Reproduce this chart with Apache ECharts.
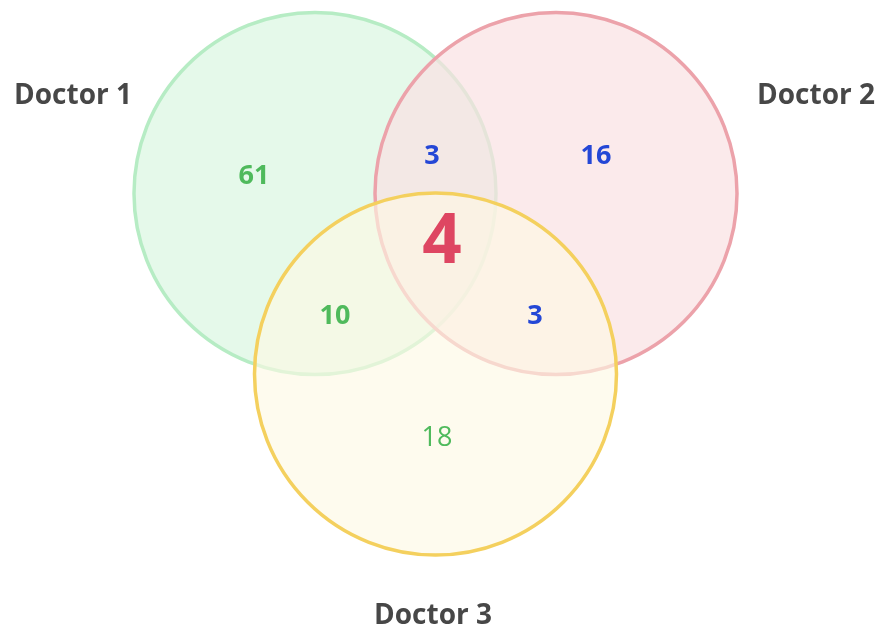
<!DOCTYPE html>
<html>
<head>
<meta charset="utf-8">
<script src="https://cdn.jsdelivr.net/npm/echarts@6/dist/echarts.min.js"></script>
<style>
html,body{margin:0;padding:0;background:#fff;}
#chart{width:881px;height:629px;}
</style>
</head>
<body>
<div id="chart"></div>
<script>
// ---- data ----
const setNames = ['Doctor 1', 'Doctor 2', 'Doctor 3'];
const regionKeys = ['1', '1&2', '2', '1&3', '1&2&3', '2&3', '3'];
const regionCounts = [61, 3, 16, 10, 4, 3, 18];

// ---- layout (diagram units = px) ----
const circleCenters = [[315, 193.5], [556, 193.5], [435.5, 374]];
const circleRadius = 181;
const setLabelPos = [[73, 96], [816, 96], [433, 616]];
const regionLabelPos = [[254, 176], [432, 156], [596, 156], [335, 316], [442, 243], [535, 316], [437, 438]];

// ---- styles ----
const circleFill = ['rgba(229,249,234,1)', 'rgba(249,225,226,0.7)', 'rgba(253,248,228,0.62)'];
const circleStroke = ['#b6ecc4', '#eca2aa', '#f4d05e'];
const regionColor = ['#4fba5c', '#2447d6', '#2447d6', '#4fba5c', '#de4662', '#2447d6', '#4fba5c'];
const regionSize = [27, 27, 27, 27, 69, 27, 27];
const regionWeight = ['bold', 'bold', 'bold', 'bold', 'bold', 'bold', 'normal'];
const FONT = '"Open Sans", "Noto Sans", sans-serif';

const chart = echarts.init(document.getElementById('chart'), null, {renderer: 'canvas'});

const circleData = setNames.map((n, i) => ({name: n, value: [circleCenters[i][0], circleCenters[i][1], circleRadius]}));

const option = {
  animation: false,
  backgroundColor: '#ffffff',
  grid: {left: 0, top: 0, right: 0, bottom: 0},
  xAxis: {type: 'value', min: 0, max: 881, show: false},
  yAxis: {type: 'value', min: 0, max: 629, inverse: true, show: false},
  series: [
    {
      type: 'custom',
      data: circleData,
      z: 1,
      renderItem: function (params, api) {
        const i = params.dataIndex;
        const c = api.coord([api.value(0), api.value(1)]);
        const r = api.size([api.value(2), 0])[0];
        return {
          type: 'circle',
          shape: {cx: c[0], cy: c[1], r: r},
          z2: i,
          style: {fill: circleFill[i], stroke: circleStroke[i], lineWidth: 3.5}
        };
      }
    },
    {
      type: 'scatter',
      z: 5,
      symbolSize: 0,
      silent: true,
      itemStyle: {opacity: 1},
      data: regionCounts.map((v, i) => ({
        name: regionKeys[i],
        value: regionLabelPos[i].concat([v]),
        label: {
          show: true,
          position: 'inside',
          formatter: String(v),
          color: regionColor[i],
          opacity: 1,
          fontSize: regionSize[i],
          fontWeight: regionWeight[i],
          fontFamily: FONT
        }
      }))
    },
    {
      type: 'scatter',
      z: 5,
      symbolSize: 0,
      silent: true,
      itemStyle: {opacity: 1},
      data: setNames.map((n, i) => ({
        name: n,
        value: setLabelPos[i],
        label: {
          show: true,
          position: 'inside',
          formatter: n,
          color: '#474747',
          opacity: 1,
          fontSize: 28,
          fontWeight: 'bold',
          fontFamily: FONT
        }
      }))
    }
  ]
};
chart.setOption(option);
</script>
</body>
</html>
